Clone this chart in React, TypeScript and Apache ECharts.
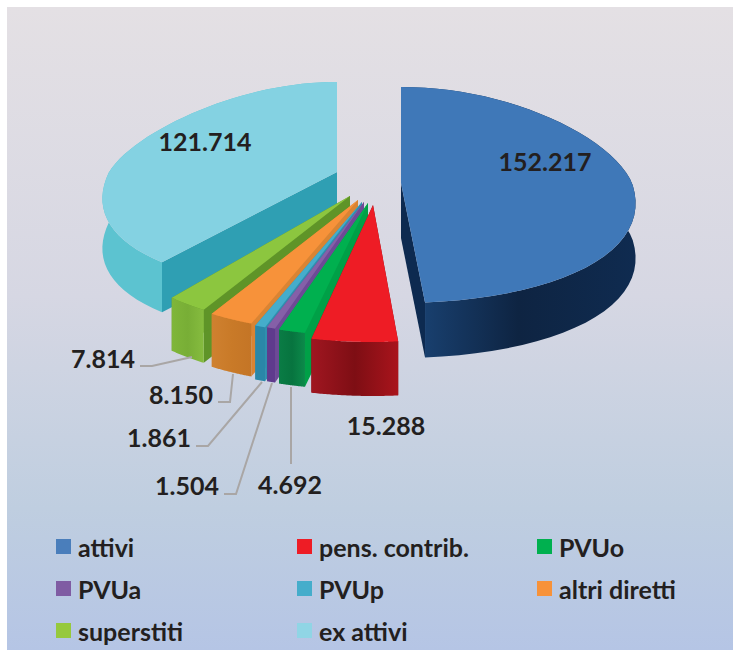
import React, { useEffect, useRef } from "react";
import * as echarts from "echarts";

const names = ["attivi", "pens. contrib.", "PVUo", "PVUa", "PVUp", "altri diretti", "superstiti", "ex attivi"];
const values = [152217, 15288, 4692, 1504, 1861, 8150, 7814, 121714];
const topColors = ["#3f78b8", "#ee1c25", "#00b04f", "#8560a8", "#45adcb", "#f7923a", "#8cc63f", "#84d2e2"];
const legendColors = ["#4a7ebb", "#ee1c25", "#00b04f", "#7f5ca3", "#45adcb", "#f7923a", "#96c93d", "#90d5e5"];
const rimColors = [
  ["#1b4679", "#0e2442", "#0f2b50"],
  ["#a01620", "#7e0e14", "#a9141c"],
  ["#0a7c45", "#07743f", "#0c8a4a"],
  ["#5f3b8d", "#5f3b8d", "#5f3b8d"],
  ["#2a87a8", "#2a87a8", "#2a87a8"],
  ["#cf8130", "#c97a28", "#c47526"],
  ["#7fb63a", "#78ae36", "#86bc3f"],
  ["#5cc3d0", "#5cc3d0", "#62c6d3"],
];
const sideColors = ["#0d2a50", "#7e0e14", "#00a047", "#6d4a96", "#2f8fae", "#d98433", "#5f9428", "#2f9fb3"];

const STEPS = 48;
// explosion offsets and projection of each slice on the page
const centres = [
  { cx: 401, cy: 183, a: 231, p: 0.18, bb: 96, bf: 120, h: 55, z: 3 },
  { cx: 373, cy: 205, a: 220, p: 0.3, bb: 96, bf: 137, h: 54, z: 9 },
  { cx: 368, cy: 203, a: 225, p: 0.3, bb: 96, bf: 133, h: 54, z: 8 },
  { cx: 364, cy: 202, a: 225, p: 0.3, bb: 96, bf: 133, h: 54, z: 7 },
  { cx: 362, cy: 202, a: 225, p: 0.3, bb: 96, bf: 133, h: 54, z: 6 },
  { cx: 358, cy: 200, a: 225, p: 0.3, bb: 96, bf: 133, h: 53, z: 5 },
  { cx: 350, cy: 196, a: 225, p: 0.3, bb: 96, bf: 133, h: 53, z: 4 },
  { cx: 337, cy: 172, a: 228, p: 0.25, bb: 90, bf: 118, h: 50, z: 2 },
];
const labelSpots = [
  [545, 161], [386, 425], [290, 484], [187, 485], [159, 437], [181, 394], [103, 358], [205, 141],
];
const leaders: (number[][] | null)[] = [
  null,
  null,
  [[291, 387], [291, 464]],
  [[224, 494], [236, 494], [272, 383]],
  [[196, 446], [208, 446], [262, 382]],
  [[218, 402], [230, 402], [233, 374]],
  [[140, 366], [152, 366], [192, 357]],
  null,
];

const total = values.reduce((a, b) => a + b, 0);
const fmt = (v: number) => `${Math.floor(v / 1000)}.${String(v % 1000).padStart(3, "0")}`;

function point(i: number, deg: number): number[] {
  const c = centres[i];
  const t = (deg * Math.PI) / 180;
  const X = Math.sin(t);
  const Y = -Math.cos(t);
  return [c.cx + c.a * X * (1 + c.p * Y), c.cy + Y * (Y > 0 ? c.bf : c.bb)];
}

function makeRenderItem(i: number) {
  const before = values.slice(0, i).reduce((a, b) => a + b, 0);
  const t1 = (before / total) * 360;
  const t2 = ((before + values[i]) / total) * 360;
  return () => {
    const c = centres[i];
    const rim: number[][] = [];
    for (let s = 0; s <= STEPS; s++) rim.push(point(i, t1 + ((t2 - t1) * s) / STEPS));
    const lower = rim.map((p) => [p[0], p[1] + c.h]).reverse();
    const apex = [c.cx, c.cy];
    const wall = (p: number[]) => ({
      type: "polygon",
      shape: { points: [apex, p, [p[0], p[1] + c.h], [apex[0], apex[1] + c.h]] },
      style: { fill: sideColors[i] },
    });
    const children: any[] = [
      wall(rim[0]),
      wall(rim[rim.length - 1]),
      {
        type: "polygon",
        shape: { points: [...rim, ...lower] },
        style: {
          fill: new echarts.graphic.LinearGradient(0, 0, 1, 0, [
            { offset: 0, color: rimColors[i][0] },
            { offset: 0.5, color: rimColors[i][1] },
            { offset: 1, color: rimColors[i][2] },
          ]),
        },
      },
      {
        type: "polygon",
        shape: { points: [apex, ...rim] },
        style: { fill: topColors[i] },
      },
    ];
    const lead = leaders[i];
    if (lead) {
      children.push({
        type: "polyline",
        shape: { points: lead },
        style: { fill: "none", stroke: "#a9a6a5", lineWidth: 2 },
      });
    }
    children.push({
      type: "text",
      x: labelSpots[i][0],
      y: labelSpots[i][1],
      style: {
        text: fmt(values[i]),
        fill: "#231f20",
        font: "bold 25px Lato, Carlito, sans-serif",
        align: "center",
        verticalAlign: "middle",
      },
    });
    return { type: "group", children };
  };
}

const legendStyle = {
  orient: "vertical",
  icon: "rect",
  itemWidth: 15,
  itemHeight: 15,
  itemGap: 17,
  selectedMode: false,
  padding: 0,
  height: 114,
  textStyle: {
    fontFamily: "Lato, Carlito, sans-serif",
    fontWeight: "bold",
    fontSize: 25,
    color: "#231f20",
    padding: [0, 0, 0, 2],
  },
};

export default function App() {
  const ref = useRef<HTMLDivElement>(null);
  useEffect(() => {
    document.body.style.margin = "0";
    const chart = echarts.init(ref.current!, undefined, { renderer: "svg" });
    chart.setOption({
      animation: false,
      graphic: [
        {
          type: "rect",
          z: -1,
          shape: { x: 7, y: 7, width: 726, height: 643 },
          style: {
            fill: new echarts.graphic.LinearGradient(0, 0, 0, 1, [
              { offset: 0, color: "#e4e0e4" },
              { offset: 0.45, color: "#d6d7e3" },
              { offset: 0.78, color: "#bfcee0" },
              { offset: 1, color: "#b5c5e5" },
            ]),
          },
        },
      ],
      legend: [
        { ...legendStyle, left: 56, top: 534, data: [names[0], names[3], names[6]] },
        { ...legendStyle, left: 297, top: 534, data: [names[1], names[4], names[7]] },
        { ...legendStyle, left: 537, top: 534, data: [names[2], names[5]] },
      ],
      series: names.map((name, i) => ({
        type: "custom",
        name,
        coordinateSystem: "none",
        z: centres[i].z,
        silent: true,
        itemStyle: { color: legendColors[i] },
        data: [values[i]],
        renderItem: makeRenderItem(i),
      })),
    });
    return () => chart.dispose();
  }, []);
  return <div ref={ref} style={{ width: 733, height: 650 }} />;
}
